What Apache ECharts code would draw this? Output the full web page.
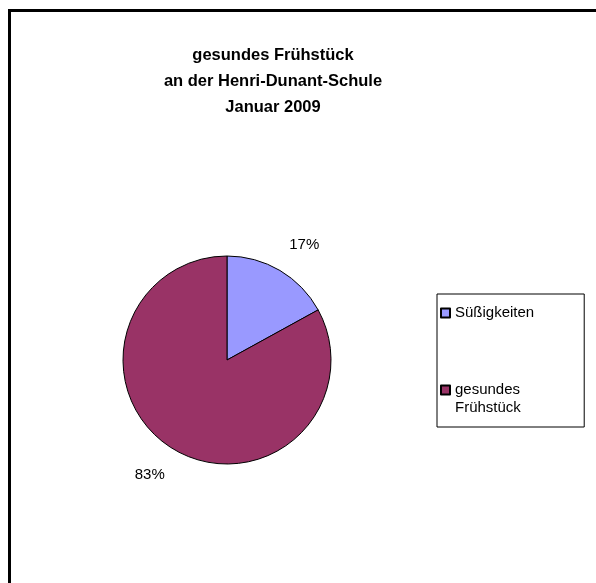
<!DOCTYPE html>
<html>
<head>
<meta charset="utf-8">
<script src="https://cdn.jsdelivr.net/npm/echarts@6/dist/echarts.min.js"></script>
<style>
  html, body { margin: 0; padding: 0; background: #fff; }
  #main { width: 596px; height: 583px; }
</style>
</head>
<body>
<div id="main"></div>
<script>
// Werte aus dem Diagramm
var categories = ['Süßigkeiten', 'gesundes Frühstück'];
var values = [17, 83];
var colors = ['#9999FF', '#993366'];

var myChart = echarts.init(document.getElementById('main'));

var pieData = categories.map(function (name, i) {
    return { name: name, value: values[i], itemStyle: { color: colors[i] } };
});

var option = {
    backgroundColor: '#ffffff',
    animation: false,
    textStyle: { fontFamily: 'Liberation Sans, Arial, sans-serif' },
    graphic: [
        {
            type: 'rect',
            silent: true,
            shape: { x: 9.5, y: 10.5, width: 800, height: 800 },
            style: { fill: null, stroke: '#000', lineWidth: 3 }
        }
    ],
    title: {
        text: 'gesundes Frühstück\nan der Henri-Dunant-Schule\nJanuar 2009',
        left: 273,
        top: 42,
        textAlign: 'center',
        padding: 0,
        textStyle: {
            fontSize: 16.5,
            fontWeight: 'bold',
            color: '#000',
            lineHeight: 26,
            fontFamily: 'Liberation Sans, Arial, sans-serif'
        }
    },
    legend: {
        orient: 'vertical',
        left: 437,
        top: 294,
        itemWidth: 9,
        itemHeight: 9,
        itemGap: 41,
        padding: [10, 50, 10, 3],
        borderColor: '#000',
        borderWidth: 1,
        icon: 'rect',
        data: categories,
        // zweizeiliger Eintrag: Leerzeile oben, damit das Kästchen an der ersten Zeile steht
        formatter: function (name) {
            return name.indexOf(' ') >= 0 ? ' \n' + name.replace(' ', '\n') : name;
        },
        textStyle: {
            fontSize: 15,
            color: '#000',
            lineHeight: 18,
            fontFamily: 'Liberation Sans, Arial, sans-serif'
        }
    },
    series: [
        {
            name: 'Frühstück',
            type: 'pie',
            center: [227, 360],
            radius: 104,
            startAngle: 90,
            clockwise: true,
            itemStyle: { borderColor: '#000', borderWidth: 1 },
            label: {
                show: true,
                position: 'outside',
                formatter: '{c}%',
                fontSize: 15,
                color: '#000',
                distanceToLabelLine: -6,
                fontFamily: 'Liberation Sans, Arial, sans-serif'
            },
            labelLine: { show: false, length: 30, length2: 0 },
            emphasis: { disabled: true },
            data: pieData
        }
    ]
};

myChart.setOption(option);
</script>
</body>
</html>
